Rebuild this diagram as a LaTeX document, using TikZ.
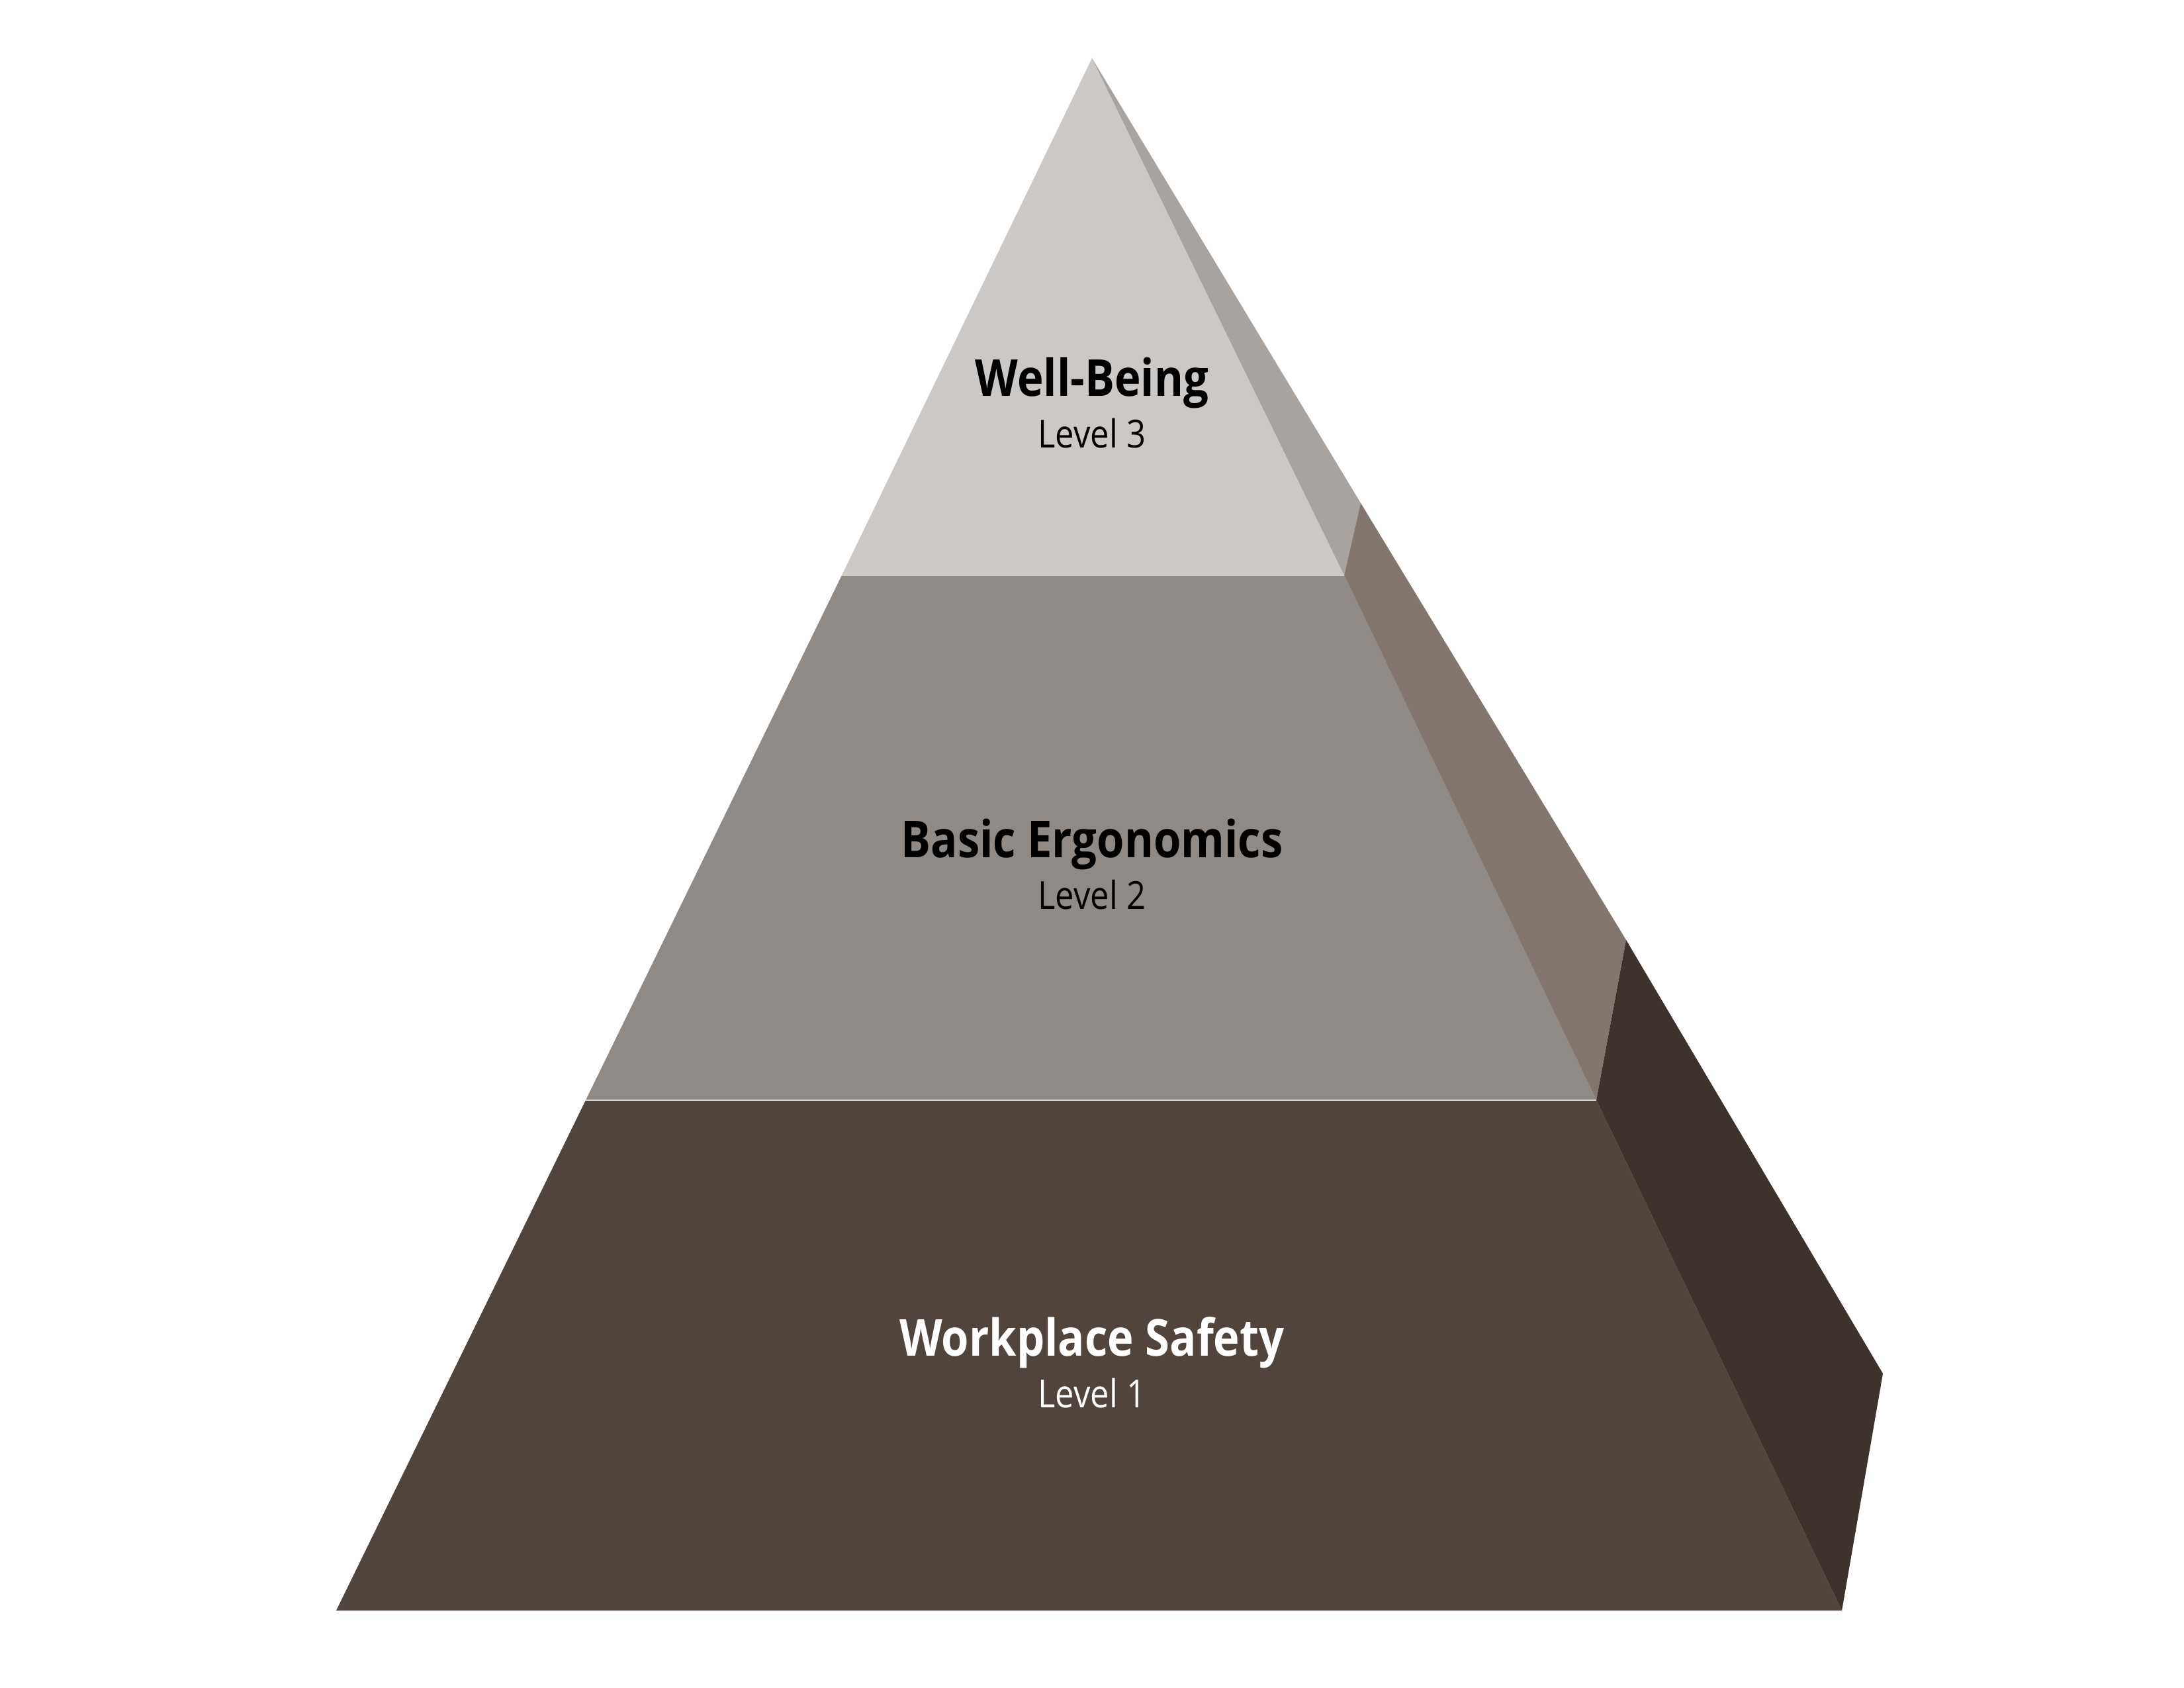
\documentclass[tikz,border=0pt]{standalone}
\usepackage{fontspec}
\setmainfont{Open Sans}[FakeStretch=0.87]
\usepackage{tikz}
\usetikzlibrary{positioning}
\usepackage{xcolor}

\definecolor{topfront}{HTML}{CCC8C5}
\definecolor{topside}{HTML}{A8A39F}
\definecolor{midfront}{HTML}{8F8A85}
\definecolor{midside}{HTML}{82766F}
\definecolor{lowfront}{HTML}{51443C}
\definecolor{lowside}{HTML}{3E322C}
\definecolor{seam}{HTML}{D6D0CA}

\begin{document}
\begin{tikzpicture}[
  title/.style={font=\fontsize{21.9}{26}\selectfont\bfseries, inner sep=0pt, anchor=base},
  level/.style={font=\fontsize{16.6}{20}\selectfont, inner sep=0pt},
  seamline/.style={draw=seam, line width=0.35pt}
  ]
\useasboundingbox (0,0) rectangle (33,25.5);

% corners of the pyramid
\coordinate (apex) at (16.50,24.62);
\coordinate (topR) at (20.31,16.81);
\coordinate (topL) at (12.72,16.81);
\coordinate (topS) at (20.56,17.90);
\coordinate (midR) at (24.12,8.88);
\coordinate (midL) at (8.85,8.88);
\coordinate (midS) at (24.57,11.30);
\coordinate (lowR) at (27.83,1.17);
\coordinate (lowL) at (5.08,1.17);
\coordinate (lowS) at (28.45,4.75);

% front faces
\fill[topfront] (apex) -- (topR) -- (topL) -- cycle;
\fill[midfront] (topL) -- (topR) -- (midR) -- (midL) -- cycle;
\fill[lowfront] (midL) -- (midR) -- (lowR) -- (lowL) -- cycle;

% side faces
\fill[topside] (apex) -- (topS) -- (topR) -- cycle;
\fill[midside] (topR) -- (topS) -- (midS) -- (midR) -- cycle;
\fill[lowside] (midR) -- (midS) -- (lowS) -- (lowR) -- cycle;

\draw[seamline] (topL) -- (topR);
\draw[seamline] (midL) -- (midR);

% labels
\node[title] (well) at (16.50,19.51) {Well-Being};
\node[level, below=0.78cm of well.base, anchor=base] (wellLvl) {Level 3};

\node[title] (ergo) at (16.50,12.54) {Basic Ergonomics};
\node[level, below=0.78cm of ergo.base, anchor=base] (ergoLvl) {Level 2};

\node[title, text=white] (safety) at (16.50,5.01) {Workplace Safety};
\node[level, text=white, below=0.78cm of safety.base, anchor=base] (safetyLvl) {Level 1};

\end{tikzpicture}
\end{document}
